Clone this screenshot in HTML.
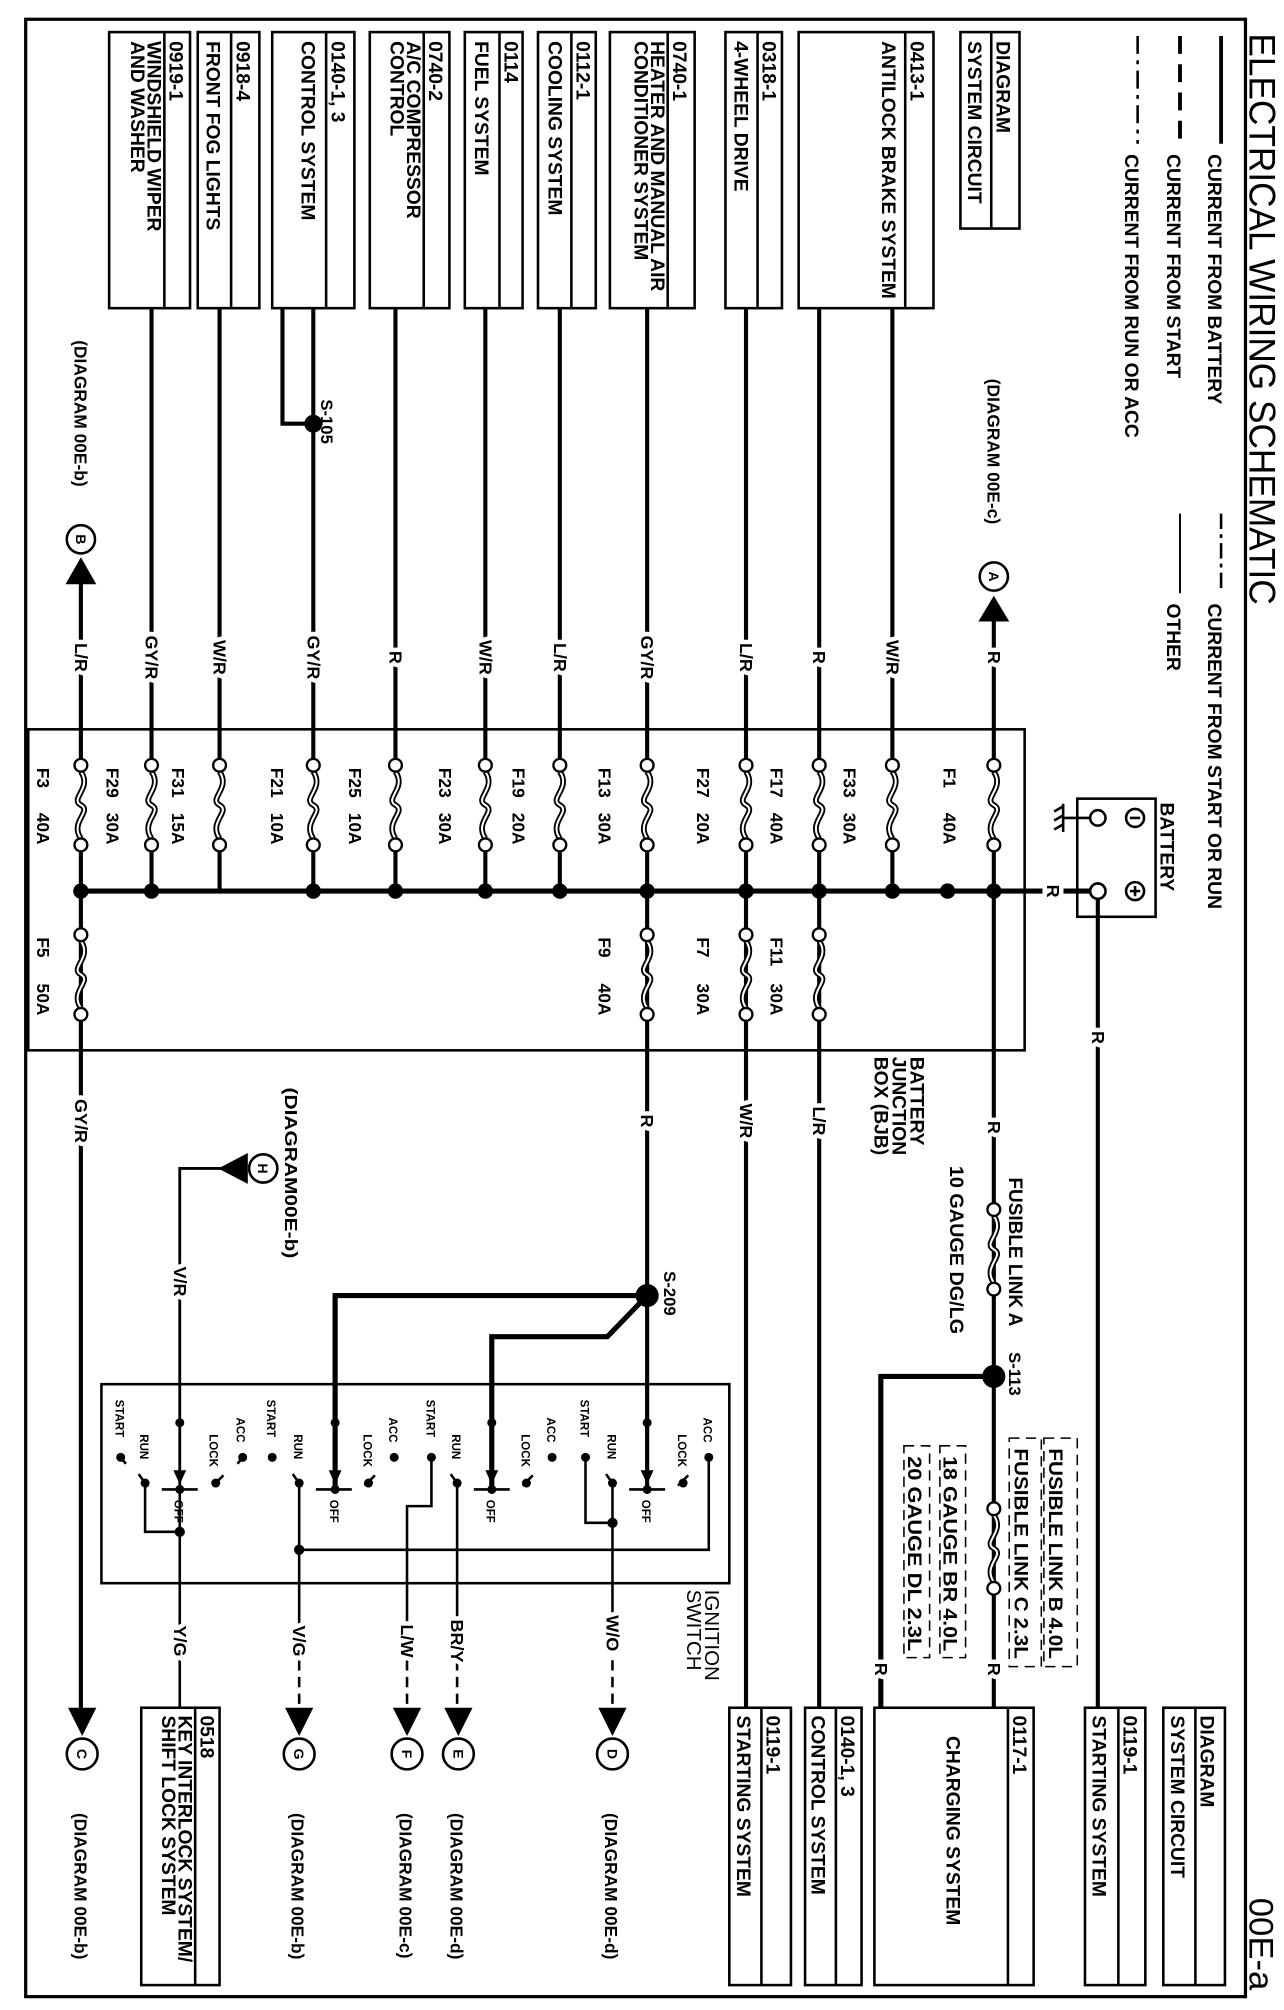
<!DOCTYPE html>
<html><head><meta charset="utf-8"><style>
html,body{margin:0;padding:0;background:#fff}
svg{display:block}
text{font-family:"Liberation Sans",Arial,sans-serif;font-weight:bold;fill:#000}
.b{font-size:15px}
.bb{font-size:15px}
.d{font-size:13.5px}
.w{font-size:14px;text-anchor:middle;dominant-baseline:central;paint-order:stroke;stroke:#fff;stroke-width:7px}
.s{font-size:9px}
.f{font-size:13.5px}
.ln{stroke:#000;stroke-width:3.2;fill:none}
</style></head><body>
<svg width="1284" height="2010" viewBox="0 0 1000 1565.4" preserveAspectRatio="none" xmlns="http://www.w3.org/2000/svg">
<defs>
<g id="fz"><path d="M0,5 C9,18 -9,26 0,31 C9,36 -9,44 0,57" stroke="#000" stroke-width="4.5" fill="none"/><path d="M0,5 C9,18 -9,26 0,31 C9,36 -9,44 0,57" stroke="#fff" stroke-width="1.6" fill="none"/><circle cx="0" cy="0" r="5" fill="#fff" stroke="#000" stroke-width="1.8"/><circle cx="0" cy="62" r="5" fill="#fff" stroke="#000" stroke-width="1.8"/></g>
</defs>
<rect x="20" y="15" width="950" height="1540" fill="none" stroke="#000" stroke-width="2.5"/>
<text transform="translate(973,26) rotate(90)" style="font-size:29px;font-weight:normal" textLength="445" lengthAdjust="spacingAndGlyphs">ELECTRICAL WIRING SCHEMATIC</text>
<text transform="translate(973,1478) rotate(90)" style="font-size:27px;font-weight:normal">00E-a</text>
<line x1="951" y1="28" x2="951" y2="112" stroke="#000" stroke-width="3"/>
<line x1="919" y1="28" x2="919" y2="112" stroke="#000" stroke-width="3" stroke-dasharray="14,8"/>
<line x1="886" y1="28" x2="886" y2="112" stroke="#000" stroke-width="2" stroke-dasharray="14,5,3,5"/>
<text class="b" transform="translate(941,120) rotate(90)">CURRENT FROM BATTERY</text>
<text class="b" transform="translate(909,120) rotate(90)">CURRENT FROM START</text>
<text class="b" transform="translate(876,120) rotate(90)">CURRENT FROM RUN OR ACC</text>
<line x1="951" y1="400" x2="951" y2="462" stroke="#000" stroke-width="2" stroke-dasharray="12,4,3,4"/>
<line x1="919" y1="400" x2="919" y2="462" stroke="#000" stroke-width="1.5"/>
<text class="b" transform="translate(941,470) rotate(90)">CURRENT FROM START OR RUN</text>
<text class="b" transform="translate(909,470) rotate(90)">OTHER</text>

<g stroke="#000" stroke-width="2" fill="#fff">
<rect x="748" y="25" width="46" height="153"/><line x1="772" y1="25" x2="772" y2="178"/>
<rect x="622" y="25" width="105" height="215"/><line x1="705" y1="25" x2="705" y2="240"/>
<rect x="565" y="25" width="44" height="215"/><line x1="590" y1="25" x2="590" y2="240"/>
<rect x="475" y="25" width="66" height="215"/><line x1="520" y1="25" x2="520" y2="240"/>
<rect x="419" y="25" width="45" height="215"/><line x1="445" y1="25" x2="445" y2="240"/>
<rect x="362" y="25" width="45" height="215"/><line x1="389" y1="25" x2="389" y2="240"/>
<rect x="288" y="25" width="62" height="215"/><line x1="330" y1="25" x2="330" y2="240"/>
<rect x="212" y="25" width="64" height="215"/><line x1="254" y1="25" x2="254" y2="240"/>
<rect x="154" y="25" width="48" height="215"/><line x1="180" y1="25" x2="180" y2="240"/>
<rect x="85" y="25" width="63" height="215"/><line x1="128" y1="25" x2="128" y2="240"/>
</g>
<text class="b" transform="translate(776,32) rotate(90)">DIAGRAM</text>
<text class="b" transform="translate(754,32) rotate(90)">SYSTEM CIRCUIT</text>
<text class="b" transform="translate(709,32) rotate(90)">0413-1</text>
<text class="b" transform="translate(687,32) rotate(90)">ANTILOCK BRAKE SYSTEM</text>
<text class="b" transform="translate(594,32) rotate(90)">0318-1</text>
<text class="b" transform="translate(572,32) rotate(90)">4-WHEEL DRIVE</text>
<text class="b" transform="translate(524,32) rotate(90)">0740-1</text>
<text class="b" transform="translate(507,32) rotate(90)">HEATER AND MANUAL AIR</text>
<text class="b" transform="translate(494,32) rotate(90)">CONDITIONER SYSTEM</text>
<text class="b" transform="translate(449,32) rotate(90)">0112-1</text>
<text class="b" transform="translate(427,32) rotate(90)">COOLING SYSTEM</text>
<text class="b" transform="translate(393,32) rotate(90)">0114</text>
<text class="b" transform="translate(370,32) rotate(90)">FUEL SYSTEM</text>
<text class="b" transform="translate(334,32) rotate(90)">0740-2</text>
<text class="b" transform="translate(317,32) rotate(90)">A/C COMPRESSOR</text>
<text class="b" transform="translate(304,32) rotate(90)">CONTROL</text>
<text class="b" transform="translate(258,32) rotate(90)">0140-1, 3</text>
<text class="b" transform="translate(235,32) rotate(90)">CONTROL SYSTEM</text>
<text class="b" transform="translate(184,32) rotate(90)">0918-4</text>
<text class="b" transform="translate(161,32) rotate(90)">FRONT FOG LIGHTS</text>
<text class="b" transform="translate(132,32) rotate(90)">0919-1</text>
<text class="b" transform="translate(115,32) rotate(90)">WINDSHIELD WIPER</text>
<text class="b" transform="translate(102,32) rotate(90)">AND WASHER</text>

<g class="ln">
<line x1="774" y1="482" x2="774" y2="591"/>
<line x1="695" y1="240" x2="695" y2="591"/>
<line x1="638" y1="240" x2="638" y2="591"/>
<line x1="581" y1="240" x2="581" y2="591"/>
<line x1="504" y1="240" x2="504" y2="591"/>
<line x1="436" y1="240" x2="436" y2="591"/>
<line x1="378" y1="240" x2="378" y2="591"/>
<line x1="308" y1="240" x2="308" y2="591"/>
<line x1="244" y1="240" x2="244" y2="591"/>
<polyline points="220,240 220,330 244,330"/>
<line x1="171" y1="240" x2="171" y2="591"/>
<line x1="118" y1="240" x2="118" y2="591"/>
<line x1="63" y1="454" x2="63" y2="591"/>
</g>
<circle cx="244" cy="330" r="7"/>
<text transform="translate(250,311) rotate(90)" style="font-size:13px">S-105</text>
<polygon points="774,464 762,484 786,484"/>
<circle cx="774" cy="449" r="11" fill="#fff" stroke="#000" stroke-width="2"/>
<text class="w" transform="translate(774,449) rotate(90)" style="font-size:11px;stroke-width:0">A</text>
<text class="d" transform="translate(769,295) rotate(90)">(DIAGRAM 00E-c)</text>
<polygon points="63,434 51,455 75,455"/>
<circle cx="63" cy="420" r="11" fill="#fff" stroke="#000" stroke-width="2"/>
<text class="w" transform="translate(63,420) rotate(90)" style="font-size:11px;stroke-width:0">B</text>
<text class="d" transform="translate(58,265) rotate(90)">(DIAGRAM 00E-b)</text>
<text class="w" transform="translate(774,512) rotate(90)">R</text>
<text class="w" transform="translate(695,512) rotate(90)">W/R</text>
<text class="w" transform="translate(638,512) rotate(90)">R</text>
<text class="w" transform="translate(581,512) rotate(90)">L/R</text>
<text class="w" transform="translate(504,512) rotate(90)">GY/R</text>
<text class="w" transform="translate(436,512) rotate(90)">L/R</text>
<text class="w" transform="translate(378,512) rotate(90)">W/R</text>
<text class="w" transform="translate(308,512) rotate(90)">R</text>
<text class="w" transform="translate(244,512) rotate(90)">GY/R</text>
<text class="w" transform="translate(171,512) rotate(90)">W/R</text>
<text class="w" transform="translate(118,512) rotate(90)">GY/R</text>
<text class="w" transform="translate(63,512) rotate(90)">L/R</text>

<rect x="22" y="568" width="776" height="250" fill="none" stroke="#000" stroke-width="2"/>
<g class="ln">
<line x1="63" y1="658" x2="63" y2="1332"/>
<line x1="118" y1="658" x2="118" y2="694"/>
<line x1="171" y1="658" x2="171" y2="694"/>
<line x1="244" y1="658" x2="244" y2="694"/>
<line x1="308" y1="658" x2="308" y2="694"/>
<line x1="378" y1="658" x2="378" y2="694"/>
<line x1="436" y1="658" x2="436" y2="694"/>
<line x1="504" y1="658" x2="504" y2="1160"/>
<line x1="581" y1="658" x2="581" y2="1330"/>
<line x1="638" y1="658" x2="638" y2="1330"/>
<line x1="695" y1="658" x2="695" y2="694"/>
<line x1="774" y1="658" x2="774" y2="1330"/>
<line x1="63" y1="694" x2="850" y2="694" style="stroke-width:4"/>
</g>
<g fill="#000">
<circle cx="63" cy="694" r="6"/><circle cx="118" cy="694" r="6"/><circle cx="244" cy="694" r="6"/><circle cx="308" cy="694" r="6"/><circle cx="378" cy="694" r="6"/><circle cx="436" cy="694" r="6"/><circle cx="504" cy="694" r="6"/><circle cx="581" cy="694" r="6"/><circle cx="638" cy="694" r="6"/><circle cx="695" cy="694" r="6"/><circle cx="738" cy="694" r="6"/><circle cx="774" cy="694" r="6"/>
</g>
<use href="#fz" x="774" y="596"/><use href="#fz" x="695" y="596"/><use href="#fz" x="638" y="596"/><use href="#fz" x="581" y="596"/><use href="#fz" x="504" y="596"/><use href="#fz" x="436" y="596"/><use href="#fz" x="378" y="596"/><use href="#fz" x="308" y="596"/><use href="#fz" x="244" y="596"/><use href="#fz" x="171" y="596"/><use href="#fz" x="118" y="596"/><use href="#fz" x="63" y="596"/>
<use href="#fz" x="638" y="728"/><use href="#fz" x="581" y="728"/><use href="#fz" x="504" y="728"/><use href="#fz" x="63" y="728"/>
<g class="f">
<text transform="translate(735,598) rotate(90)">F1</text><text transform="translate(735,633) rotate(90)">40A</text>
<text transform="translate(657,598) rotate(90)">F33</text><text transform="translate(657,633) rotate(90)">30A</text>
<text transform="translate(600,598) rotate(90)">F17</text><text transform="translate(600,633) rotate(90)">40A</text>
<text transform="translate(543,598) rotate(90)">F27</text><text transform="translate(543,633) rotate(90)">20A</text>
<text transform="translate(466,598) rotate(90)">F13</text><text transform="translate(466,633) rotate(90)">30A</text>
<text transform="translate(399,598) rotate(90)">F19</text><text transform="translate(399,633) rotate(90)">20A</text>
<text transform="translate(342,598) rotate(90)">F23</text><text transform="translate(342,633) rotate(90)">30A</text>
<text transform="translate(272,598) rotate(90)">F25</text><text transform="translate(272,633) rotate(90)">10A</text>
<text transform="translate(211,598) rotate(90)">F21</text><text transform="translate(211,633) rotate(90)">10A</text>
<text transform="translate(134,598) rotate(90)">F31</text><text transform="translate(134,633) rotate(90)">15A</text>
<text transform="translate(83,598) rotate(90)">F29</text><text transform="translate(83,633) rotate(90)">30A</text>
<text transform="translate(29,598) rotate(90)">F3</text><text transform="translate(29,633) rotate(90)">40A</text>
<text transform="translate(600,730) rotate(90)">F11</text><text transform="translate(600,766) rotate(90)">30A</text>
<text transform="translate(543,730) rotate(90)">F7</text><text transform="translate(543,766) rotate(90)">30A</text>
<text transform="translate(466,730) rotate(90)">F9</text><text transform="translate(466,766) rotate(90)">40A</text>
<text transform="translate(29,730) rotate(90)">F5</text><text transform="translate(29,766) rotate(90)">50A</text>
</g>
<text class="w" transform="translate(820,694) rotate(90)">R</text>
<text class="b" transform="translate(709,823) rotate(90)">BATTERY</text>
<text class="b" transform="translate(695,823) rotate(90)">JUNCTION</text>
<text class="b" transform="translate(681,823) rotate(90)">BOX (BJB)</text>

<rect x="839" y="622" width="61" height="92" fill="none" stroke="#000" stroke-width="2"/>
<circle cx="855" cy="637" r="6" fill="#fff" stroke="#000" stroke-width="2"/>
<circle cx="855" cy="694" r="6" fill="#fff" stroke="#000" stroke-width="2"/>
<circle cx="884" cy="637" r="7" fill="#fff" stroke="#000" stroke-width="2"/><line x1="880" y1="637" x2="888" y2="637" stroke="#000" stroke-width="2"/>
<circle cx="884" cy="694" r="7" fill="#fff" stroke="#000" stroke-width="2"/><line x1="880" y1="694" x2="888" y2="694" stroke="#000" stroke-width="2"/><line x1="884" y1="690" x2="884" y2="698" stroke="#000" stroke-width="2"/>
<line x1="849" y1="637" x2="828" y2="637" stroke="#000" stroke-width="2"/>
<line x1="828" y1="626" x2="828" y2="648" stroke="#000" stroke-width="2"/>
<path d="M828,628 l-7,4 M828,635 l-7,4 M828,642 l-7,4" stroke="#000" stroke-width="2"/>
<text class="b" transform="translate(904,625) rotate(90)">BATTERY</text>
<line class="ln" x1="855" y1="700" x2="855" y2="1330"/>
<text class="w" transform="translate(855,808) rotate(90)">R</text>

<text class="w" transform="translate(774,878) rotate(90)">R</text>
<text class="w" transform="translate(638,873) rotate(90)">L/R</text>
<text class="w" transform="translate(581,873) rotate(90)">W/R</text>
<text class="w" transform="translate(504,873) rotate(90)">R</text>
<text class="w" transform="translate(63,873) rotate(90)">GY/R</text>

<use href="#fz" x="774" y="942"/>
<use href="#fz" x="774" y="1175"/>
<text class="b" transform="translate(786,917) rotate(90)" textLength="116" lengthAdjust="spacingAndGlyphs">FUSIBLE LINK A</text>
<text class="b" transform="translate(740,908) rotate(90)" textLength="131" lengthAdjust="spacingAndGlyphs">10 GAUGE  DG/LG</text>
<circle cx="774" cy="1072" r="9"/>
<polyline class="ln" points="774,1072 686,1072 686,1330" style="stroke-width:4"/>
<text transform="translate(786,1053) rotate(90)" style="font-size:13px">S-113</text>
<g class="b">
<text transform="translate(817,1128) rotate(90)" textLength="164" lengthAdjust="spacingAndGlyphs">FUSIBLE LINK B   4.0L</text>
<text transform="translate(790,1128) rotate(90)" textLength="164" lengthAdjust="spacingAndGlyphs">FUSIBLE LINK C   2.3L</text>
<text transform="translate(735,1134) rotate(90)" textLength="152" lengthAdjust="spacingAndGlyphs">18 GAUGE  BR   4.0L</text>
<text transform="translate(707,1134) rotate(90)" textLength="152" lengthAdjust="spacingAndGlyphs">20 GAUGE  DL   2.3L</text>
</g>
<g fill="none" stroke="#000" stroke-width="1.2" stroke-dasharray="8,5">
<rect x="813" y="1120" width="26" height="178"/>
<rect x="786" y="1120" width="25" height="178"/>
<rect x="732" y="1126" width="20" height="165"/>
<rect x="704" y="1126" width="20" height="165"/>
</g>
<text class="w" transform="translate(774,1300) rotate(90)">R</text>
<text class="w" transform="translate(686,1300) rotate(90)">R</text>

<circle cx="504" cy="1009" r="9"/>
<polyline class="ln" points="504,1009 261,1009 261,1160" style="stroke-width:4"/>
<polyline class="ln" points="504,1009 473,1041 383,1041 383,1160" style="stroke-width:4"/>
<text transform="translate(517,990) rotate(90)" style="font-size:13px">S-209</text>

<polyline class="ln" points="140,1160 140,910 172,910" style="stroke-width:2.2"/>
<polygon points="170,910 193,898 193,922"/>
<circle cx="205" cy="910" r="11" fill="#fff" stroke="#000" stroke-width="2"/>
<text class="w" transform="translate(205,910) rotate(90)" style="font-size:11px;stroke-width:0">H</text>
<text class="d" transform="translate(222,847) rotate(90)" textLength="133" lengthAdjust="spacingAndGlyphs">(DIAGRAM00E-b)</text>
<text class="w" transform="translate(140,998) rotate(90)">V/R</text>

<rect x="79" y="1078" width="489" height="155" fill="none" stroke="#000" stroke-width="2"/>
<text transform="translate(549,1238) rotate(90)" style="font-size:16px;font-weight:normal">IGNITION</text>
<text transform="translate(535,1238) rotate(90)" style="font-size:16px;font-weight:normal">SWITCH</text>
<g stroke="#000" stroke-width="2" fill="none">
<line x1="94" y1="1135" x2="98" y2="1140"/><line x1="108" y1="1148" x2="115" y2="1158"/><line x1="126" y1="1160" x2="154" y2="1160"/><line x1="166" y1="1157" x2="174" y2="1149"/><line x1="185" y1="1140" x2="189" y2="1135"/>
<polyline points="113,1155 113,1193 140,1193"/>
<line x1="140" y1="1160" x2="140" y2="1330"/>
<line x1="228" y1="1148" x2="235" y2="1158"/><line x1="246" y1="1160" x2="274" y2="1160"/><line x1="284" y1="1157" x2="292" y2="1149"/>
<line x1="261" y1="1078" x2="261" y2="1150" stroke-width="3"/>
<polyline points="233,1155 233,1280"/>
<polyline points="233,1207 552,1207 552,1135"/>
<line x1="351" y1="1148" x2="358" y2="1158"/><line x1="369" y1="1160" x2="397" y2="1160"/><line x1="407" y1="1157" x2="415" y2="1149"/>
<line x1="383" y1="1078" x2="383" y2="1150" stroke-width="3"/>
<polyline points="336,1135 336,1173 317,1173 317,1280"/>
<line x1="356" y1="1155" x2="356" y2="1280"/>
<line x1="472" y1="1148" x2="479" y2="1158"/><line x1="490" y1="1160" x2="518" y2="1160"/><line x1="528" y1="1157" x2="536" y2="1149"/>
<line x1="504" y1="1078" x2="504" y2="1150" stroke-width="3"/>
<polyline points="456,1135 456,1186 477,1186"/>
<line x1="477" y1="1155" x2="477" y2="1280"/>
</g>
<g fill="#000">
<circle cx="94" cy="1135" r="3.5"/><circle cx="113" cy="1155" r="3.5"/><circle cx="168" cy="1155" r="3.5"/><circle cx="189" cy="1135" r="3.5"/><circle cx="140" cy="1108" r="3.5"/><circle cx="140" cy="1160" r="3.5"/><circle cx="140" cy="1193" r="4"/>
<polygon points="140,1156 135,1145 145,1145"/>
<circle cx="212" cy="1135" r="3.5"/><circle cx="233" cy="1155" r="3.5"/><circle cx="287" cy="1155" r="3.5"/><circle cx="307" cy="1135" r="3.5"/><circle cx="261" cy="1108" r="3.5"/><circle cx="261" cy="1160" r="3.5"/><circle cx="233" cy="1207" r="4"/>
<polygon points="261,1156 256,1145 266,1145"/>
<circle cx="336" cy="1135" r="3.5"/><circle cx="356" cy="1155" r="3.5"/><circle cx="410" cy="1155" r="3.5"/><circle cx="430" cy="1135" r="3.5"/><circle cx="383" cy="1108" r="3.5"/><circle cx="383" cy="1160" r="3.5"/>
<polygon points="383,1156 378,1145 388,1145"/>
<circle cx="456" cy="1135" r="3.5"/><circle cx="477" cy="1155" r="3.5"/><circle cx="532" cy="1155" r="3.5"/><circle cx="552" cy="1135" r="3.5"/><circle cx="504" cy="1108" r="3.5"/><circle cx="504" cy="1160" r="3.5"/><circle cx="477" cy="1186" r="4"/>
<polygon points="504,1156 499,1145 509,1145"/>
</g>
<g class="s">
<text transform="translate(90,1090) rotate(90)">START</text><text transform="translate(109,1117) rotate(90)">RUN</text><text transform="translate(163,1117) rotate(90)">LOCK</text><text transform="translate(184,1104) rotate(90)">ACC</text><text transform="translate(136,1168) rotate(90)">OFF</text>
<text transform="translate(208,1090) rotate(90)">START</text><text transform="translate(229,1117) rotate(90)">RUN</text><text transform="translate(283,1117) rotate(90)">LOCK</text><text transform="translate(303,1104) rotate(90)">ACC</text><text transform="translate(257,1168) rotate(90)">OFF</text>
<text transform="translate(332,1090) rotate(90)">START</text><text transform="translate(352,1117) rotate(90)">RUN</text><text transform="translate(406,1117) rotate(90)">LOCK</text><text transform="translate(426,1104) rotate(90)">ACC</text><text transform="translate(379,1168) rotate(90)">OFF</text>
<text transform="translate(452,1090) rotate(90)">START</text><text transform="translate(473,1117) rotate(90)">RUN</text><text transform="translate(528,1117) rotate(90)">LOCK</text><text transform="translate(548,1104) rotate(90)">ACC</text><text transform="translate(500,1168) rotate(90)">OFF</text>
</g>
<g stroke="#000" stroke-width="2" stroke-dasharray="8,5" fill="none">
<line x1="233" y1="1280" x2="233" y2="1332"/>
<line x1="317" y1="1280" x2="317" y2="1332"/>
<line x1="356" y1="1280" x2="356" y2="1332"/>
<line x1="477" y1="1280" x2="477" y2="1332"/>
</g>
<text class="w" transform="translate(477,1272) rotate(90)">W/O</text>
<text class="w" transform="translate(356,1278) rotate(90)">BR/Y</text>
<text class="w" transform="translate(317,1278) rotate(90)">L/W</text>
<text class="w" transform="translate(233,1278) rotate(90)">V/G</text>
<text class="w" transform="translate(140,1278) rotate(90)">Y/G</text>
<g fill="#000">
<polygon points="64,1352 53,1330 75,1330"/><polygon points="233,1352 222,1330 244,1330"/><polygon points="317,1352 306,1330 328,1330"/><polygon points="357,1352 346,1330 368,1330"/><polygon points="477,1352 466,1330 488,1330"/>
</g>
<g fill="#fff" stroke="#000" stroke-width="2">
<ellipse cx="64" cy="1366" rx="12" ry="12"/><ellipse cx="233" cy="1366" rx="12" ry="12"/><ellipse cx="317" cy="1366" rx="12" ry="12"/><ellipse cx="357" cy="1366" rx="12" ry="12"/><ellipse cx="477" cy="1366" rx="12" ry="12"/>
</g>
<g class="w" style="font-size:11px;stroke-width:0">
<text transform="translate(64,1366) rotate(90)">C</text><text transform="translate(233,1366) rotate(90)">G</text><text transform="translate(317,1366) rotate(90)">F</text><text transform="translate(357,1366) rotate(90)">E</text><text transform="translate(477,1366) rotate(90)">D</text>
</g>
<g class="d">
<text transform="translate(58,1412) rotate(90)">(DIAGRAM 00E-b)</text>
<text transform="translate(227,1412) rotate(90)">(DIAGRAM 00E-b)</text>
<text transform="translate(311,1412) rotate(90)">(DIAGRAM  00E-c)</text>
<text transform="translate(351,1412) rotate(90)">(DIAGRAM 00E-d)</text>
<text transform="translate(471,1412) rotate(90)">(DIAGRAM 00E-d)</text>
</g>
<g stroke="#000" stroke-width="2" fill="#fff">
<rect x="906" y="1330" width="48" height="216"/><line x1="931" y1="1330" x2="931" y2="1546"/>
<rect x="845" y="1330" width="47" height="216"/><line x1="871" y1="1330" x2="871" y2="1546"/>
<rect x="681" y="1330" width="124" height="216"/><line x1="785" y1="1330" x2="785" y2="1546"/>
<rect x="627" y="1330" width="44" height="216"/><line x1="651" y1="1330" x2="651" y2="1546"/>
<rect x="568" y="1330" width="48" height="216"/><line x1="593" y1="1330" x2="593" y2="1546"/>
<rect x="110" y="1330" width="61" height="216"/><line x1="152" y1="1330" x2="152" y2="1546"/>
</g>
<text class="b" transform="translate(935,1336) rotate(90)">DIAGRAM</text>
<text class="b" transform="translate(912,1336) rotate(90)">SYSTEM CIRCUIT</text>
<text class="b" transform="translate(875,1336) rotate(90)">0119-1</text>
<text class="b" transform="translate(851,1336) rotate(90)">STARTING SYSTEM</text>
<text class="b" transform="translate(789,1336) rotate(90)">0117-1</text>
<text class="b" transform="translate(737,1352) rotate(90)">CHARGING SYSTEM</text>
<text class="b" transform="translate(655,1336) rotate(90)">0140-1, 3</text>
<text class="b" transform="translate(632,1336) rotate(90)">CONTROL SYSTEM</text>
<text class="b" transform="translate(597,1336) rotate(90)">0119-1</text>
<text class="b" transform="translate(574,1336) rotate(90)">STARTING SYSTEM</text>
<text class="b" transform="translate(156,1336) rotate(90)">0518</text>
<text class="b" transform="translate(139,1336) rotate(90)">KEY INTERLOCK SYSTEM/</text>
<text class="b" transform="translate(126,1336) rotate(90)">SHIFT LOCK SYSTEM</text>
</svg>
</body></html>
